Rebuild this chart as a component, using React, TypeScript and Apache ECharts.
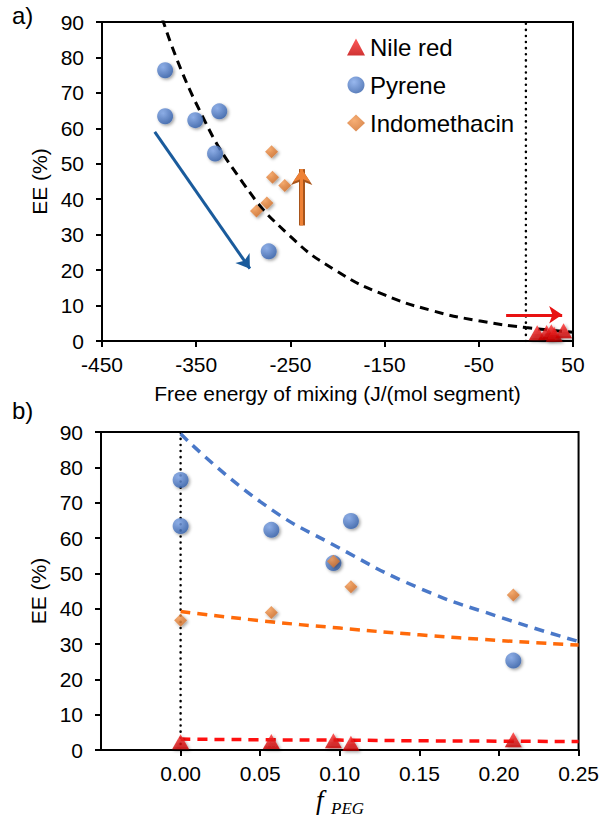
import React, { useEffect, useRef } from "react";
import * as echarts from "echarts";

// ---------- data ----------
// Panel a) : EE vs free energy of mixing
const nileFree = [12, 22, 27, 30, 40];
const nileEEa = [2.3, 2.4, 2.6, 1.9, 2.9];
const pyreneFree = [-383, -383, -351, -330, -325.5, -273];
const pyreneEEa = [76.4, 63.4, 62.3, 52.9, 64.8, 25.3];
const indoFree = [-286, -275, -270, -269, -256];
const indoEEa = [36.7, 38.9, 53.4, 46.2, 43.9];
const curveFree = [-386, -350, -300, -250, -200, -150, -100, -50, 0, 50];
const curveEE = [91, 67, 44.5, 29.5, 19.6, 13.0, 8.6, 5.7, 3.8, 2.5];
const topTicks = [-450, -350, -250, -150, -50, 50];
const blueArrow = [[-394, 59], [-293, 20.4]];
const orangeArrow = [[-238, 32.6], [-238, 48.5]];
const redArrow = [[-21, 7.4], [38.5, 7.4]];

// Panel b) : EE vs f_PEG
const nileF = [0, 0.057, 0.096, 0.107, 0.209];
const nileEEb = [2.3, 2.4, 2.6, 1.9, 2.9];
const pyreneF = [0, 0, 0.057, 0.096, 0.107, 0.209];
const pyreneEEb = [76.4, 63.4, 62.3, 52.9, 64.8, 25.3];
const indoF = [0, 0.057, 0.096, 0.107, 0.209];
const indoEEb = [36.7, 38.9, 53.4, 46.2, 43.9];
const fitF = [0, 0.05, 0.1, 0.15, 0.2, 0.25];
const pyreneFit = [89.5, 70.3, 57.1, 45.8, 37.7, 30.7];
const indoFit = [39.2, 36.6, 34.5, 32.6, 31.0, 29.7];
const nileFit = [3.1, 2.9, 2.8, 2.6, 2.5, 2.4];
const bottomTicks = [0, 0.05, 0.1, 0.15, 0.2, 0.25];

const yTicksMax = 90;

const FONT = "Liberation Sans, Arial, sans-serif";

const zip = (xs: number[], ys: number[]) => xs.map((x, i) => [x, ys[i]]);

const blueFill = {
  type: "radial",
  x: 0.38,
  y: 0.32,
  r: 0.75,
  colorStops: [
    { offset: 0, color: "#7fa6ea" },
    { offset: 1, color: "#2d5aa6" },
  ],
};
const orangeFill = {
  type: "radial",
  x: 0.4,
  y: 0.35,
  r: 0.8,
  colorStops: [
    { offset: 0, color: "#f59a52" },
    { offset: 1, color: "#c9631c" },
  ],
};
const redFill = {
  type: "linear",
  x: 0,
  y: 0,
  x2: 0,
  y2: 1,
  colorStops: [
    { offset: 0, color: "#ff3030" },
    { offset: 1, color: "#c40000" },
  ],
};
const shadow = {
  shadowBlur: 3,
  shadowColor: "rgba(0,0,0,0.45)",
  shadowOffsetX: 1.5,
  shadowOffsetY: 1.5,
};

const pyreneStyle = { symbol: "circle", symbolSize: 16, itemStyle: { color: blueFill, ...shadow } };
const indoStyle = { symbol: "diamond", symbolSize: [13, 13], itemStyle: { color: orangeFill, ...shadow } };
const nileStyle = { symbol: "triangle", symbolSize: [17, 15], itemStyle: { color: redFill, ...shadow } };

function makeAxisCommon() {
  return {
    axisLine: { show: true, onZero: false, lineStyle: { color: "#000", width: 2 } },
    axisTick: { show: true, inside: false, length: 6, lineStyle: { color: "#000", width: 2 } },
    splitLine: { show: false },
  };
}

export default function App() {
  const ref = useRef<HTMLDivElement>(null);
  useEffect(() => {
    document.body.style.margin = "0";
    if (!ref.current) return;
    const chart = echarts.init(ref.current, null, { renderer: "svg" });
    const common = makeAxisCommon();
    const option: any = {
      animation: false,
      backgroundColor: "#fff",
      textStyle: { fontFamily: FONT },
      grid: [
        { left: 102, top: 22, width: 471, height: 319, show: true, borderColor: "#000", borderWidth: 2 },
        { left: 101, top: 432, width: 479, height: 318, show: true, borderColor: "#000", borderWidth: 2 },
      ],
      legend: {
        orient: "vertical",
        left: 347,
        top: 34,
        padding: 0,
        itemGap: 12,
        itemWidth: 18,
        itemHeight: 17,
        data: ["Nile red", "Pyrene", "Indomethacin"],
        textStyle: { fontSize: 24, color: "#000", fontFamily: FONT, lineHeight: 26 },
        selectedMode: false,
      },
      xAxis: [
        {
          gridIndex: 0,
          type: "value",
          min: -450,
          max: 50,
          ...common,
          axisTick: { ...common.axisTick, customValues: topTicks },
          axisLabel: { customValues: topTicks, fontSize: 21, color: "#000", margin: 13, fontFamily: FONT },
          name: "Free energy of mixing (J/(mol segment)",
          nameLocation: "middle",
          nameGap: 42,
          nameTextStyle: { fontSize: 21, color: "#000", fontFamily: FONT },
        },
        {
          gridIndex: 1,
          type: "value",
          min: -0.05,
          max: 0.25,
          ...common,
          axisTick: { ...common.axisTick, customValues: bottomTicks },
          axisLabel: {
            customValues: bottomTicks,
            fontSize: 21,
            color: "#000",
            margin: 13,
            fontFamily: FONT,
            formatter: (v: number) => v.toFixed(2),
          },
        },
      ],
      yAxis: [0, 1].map((g) => ({
        gridIndex: g,
        type: "value",
        min: 0,
        max: yTicksMax,
        interval: 10,
        ...common,
        axisLabel: { fontSize: 21, color: "#000", margin: 18, fontFamily: FONT },
        name: "EE (%)",
        nameLocation: "middle",
        nameRotate: 90,
        nameGap: 50,
        nameTextStyle: { fontSize: 21, color: "#000", fontFamily: FONT },
      })),
      graphic: [
        { type: "text", left: 12, top: 3, style: { text: "a)", fontSize: 24, fill: "#000", fontFamily: FONT } },
        { type: "text", left: 12, top: 398, style: { text: "b)", fontSize: 24, fill: "#000", fontFamily: FONT } },
        {
          type: "text",
          left: 316,
          top: 786,
          style: { text: "f", fontSize: 27, fontStyle: "italic", fill: "#000", fontFamily: "Liberation Serif, serif" },
        },
        {
          type: "text",
          left: 331,
          top: 800,
          style: { text: "PEG", fontSize: 17, fontStyle: "italic", fill: "#000", fontFamily: "Liberation Serif, serif" },
        },
      ],
      series: [
        // ----- panel a -----
        {
          type: "line",
          xAxisIndex: 0,
          yAxisIndex: 0,
          data: [[0, 0], [0, 90]],
          symbol: "none",
          silent: true,
          z: 1,
          lineStyle: { color: "#000", width: 2.5, type: [0.1, 6], cap: "round" },
        },
        {
          type: "line",
          xAxisIndex: 0,
          yAxisIndex: 0,
          data: zip(curveFree, curveEE),
          smooth: true,
          symbol: "none",
          silent: true,
          z: 2,
          lineStyle: { color: "#000", width: 3, type: [9, 6] },
        },
        {
          type: "lines",
          coordinateSystem: "cartesian2d",
          xAxisIndex: 0,
          yAxisIndex: 0,
          symbol: ["none", "arrow"],
          symbolSize: 16,
          z: 3,
          data: [{ coords: orangeArrow, lineStyle: { color: "#a9551b", width: 6 } }],
          lineStyle: { opacity: 1, curveness: 0 },
        },
        {
          type: "lines",
          coordinateSystem: "cartesian2d",
          xAxisIndex: 0,
          yAxisIndex: 0,
          symbol: ["none", "arrow"],
          symbolSize: 13,
          z: 4,
          data: [
            { coords: blueArrow, lineStyle: { color: "#1a5b9c", width: 3 } },
            { coords: orangeArrow, lineStyle: { color: "#ee8135", width: 3 } },
            { coords: redArrow, lineStyle: { color: "#e81212", width: 3 } },
          ],
          lineStyle: { opacity: 1, curveness: 0 },
        },
        { name: "Nile red", type: "scatter", xAxisIndex: 0, yAxisIndex: 0, z: 5, data: zip(nileFree, nileEEa), ...nileStyle },
        { name: "Pyrene", type: "scatter", xAxisIndex: 0, yAxisIndex: 0, z: 5, data: zip(pyreneFree, pyreneEEa), ...pyreneStyle },
        { name: "Indomethacin", type: "scatter", xAxisIndex: 0, yAxisIndex: 0, z: 6, data: zip(indoFree, indoEEa), ...indoStyle },
        // ----- panel b -----
        {
          type: "line",
          xAxisIndex: 1,
          yAxisIndex: 1,
          data: [[0, 0], [0, 90]],
          symbol: "none",
          silent: true,
          z: 1,
          lineStyle: { color: "#000", width: 2.5, type: [0.1, 6], cap: "round" },
        },
        {
          type: "line",
          xAxisIndex: 1,
          yAxisIndex: 1,
          data: zip(fitF, pyreneFit),
          smooth: true,
          symbol: "none",
          silent: true,
          z: 2,
          lineStyle: { color: "#4a78c8", width: 3.5, type: [10, 7] },
        },
        {
          type: "line",
          xAxisIndex: 1,
          yAxisIndex: 1,
          data: zip(fitF, indoFit),
          smooth: true,
          symbol: "none",
          silent: true,
          z: 2,
          lineStyle: { color: "#ff6a0a", width: 3.5, type: [10, 7] },
        },
        {
          type: "line",
          xAxisIndex: 1,
          yAxisIndex: 1,
          data: zip(fitF, nileFit),
          smooth: true,
          symbol: "none",
          silent: true,
          z: 2,
          lineStyle: { color: "#ff1010", width: 3.5, type: [10, 7] },
        },
        { name: "Nile red", type: "scatter", xAxisIndex: 1, yAxisIndex: 1, z: 5, data: zip(nileF, nileEEb), ...nileStyle },
        { name: "Pyrene", type: "scatter", xAxisIndex: 1, yAxisIndex: 1, z: 5, data: zip(pyreneF, pyreneEEb), ...pyreneStyle },
        { name: "Indomethacin", type: "scatter", xAxisIndex: 1, yAxisIndex: 1, z: 6, data: zip(indoF, indoEEb), ...indoStyle },
      ],
    };
    chart.setOption(option);
    return () => chart.dispose();
  }, []);
  return <div ref={ref} style={{ width: 602, height: 822 }} />;
}
